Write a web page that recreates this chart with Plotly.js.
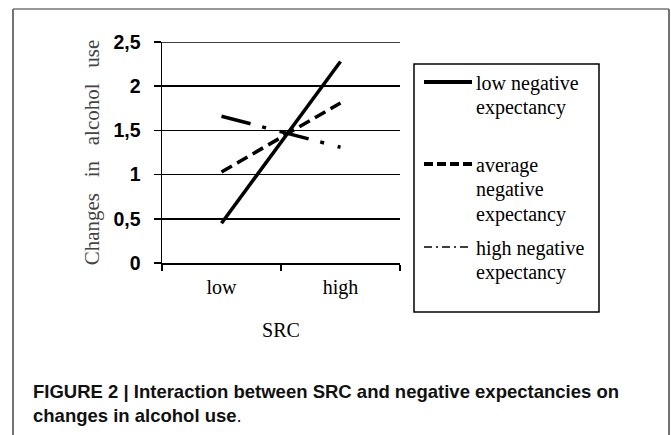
<!DOCTYPE html>
<html>
<head>
<meta charset="utf-8">
<script src="https://cdn.plot.ly/plotly-3.0.1.min.js"></script>
<style>
  html, body { margin: 0; padding: 0; background: #fff; }
  #chart { width: 671px; height: 435px; }
</style>
</head>
<body>
<div id="chart"></div>
<script>
// ---- data ----
const categories = ['low', 'high'];
const lowNegative = [0.45, 2.28];
const averageNegative = [1.03, 1.81];
const highNegative = [1.66, 1.31];
const seriesNames = ['low negative expectancy', 'average negative expectancy', 'high negative expectancy'];
const legendLines = [
  ['low negative', 'expectancy'],
  ['average', 'negative', 'expectancy'],
  ['high negative', 'expectancy']
];
const yTicks = [0, 0.5, 1, 1.5, 2, 2.5];

// ---- geometry helpers (pixel -> paper) ----
const W = 671, H = 435;
const M = {l: 162, r: 271, t: 42, b: 172};
const PW = W - M.l - M.r, PH = H - M.t - M.b;
const px = x => (x - M.l) / PW;
const py = y => (H - M.b - y) / PH;

const serif = 'Liberation Serif, Times New Roman, serif';
const sans = 'Liberation Sans, Arial, sans-serif';

const traces = [
  {x: categories, y: lowNegative, name: seriesNames[0], type: 'scatter', mode: 'lines',
   line: {color: '#000', width: 3.5}},
  {x: categories, y: averageNegative, name: seriesNames[1], type: 'scatter', mode: 'lines',
   line: {color: '#000', width: 3.5, dash: '12px,6px'}},
  {x: categories, y: highNegative, name: seriesNames[2], type: 'scatter', mode: 'lines',
   line: {color: '#000', width: 3.5, dash: '30px,12px,4px,14px'}}
];

const shapes = [];
const annotations = [];

// top gridline (Plotly skips the grid line on the plot edge)
shapes.push({type: 'line', xref: 'paper', yref: 'y', x0: 0, x1: 1,
  y0: yTicks[yTicks.length - 1], y1: yTicks[yTicks.length - 1], line: {color: '#000', width: 1.5}});

// outer frame
shapes.push({type: 'line', xref: 'paper', yref: 'paper', x0: px(13), x1: px(13), y0: py(9), y1: py(440), line: {color: '#444', width: 1.5}});
shapes.push({type: 'line', xref: 'paper', yref: 'paper', x0: px(669), x1: px(669), y0: py(9), y1: py(440), line: {color: '#444', width: 1.5}});
shapes.push({type: 'line', xref: 'paper', yref: 'paper', x0: px(13), x1: px(669), y0: py(9), y1: py(9), line: {color: '#777', width: 1.5}});

// legend box
shapes.push({type: 'rect', xref: 'paper', yref: 'paper', x0: px(414), x1: px(599), y0: py(64), y1: py(312),
  line: {color: '#000', width: 1.5}, fillcolor: '#fff', layer: 'below'});

const sampleStyles = [
  {color: '#000', width: 4},
  {color: '#000', width: 4, dash: '9px,4px'},
  {color: '#000', width: 1.3, dash: '8px,4px,2px,4px'}
];
const firstLineY = [83, 165, 248];
legendLines.forEach((lines, i) => {
  shapes.push({type: 'line', xref: 'paper', yref: 'paper', x0: px(424), x1: px(472),
    y0: py(firstLineY[i] - 1), y1: py(firstLineY[i] - 1), line: sampleStyles[i]});
  lines.forEach((t, j) => {
    annotations.push({xref: 'paper', yref: 'paper', x: px(474), y: py(firstLineY[i] + j * 24.5),
      xanchor: 'left', yanchor: 'middle', showarrow: false, text: t,
      font: {family: serif, size: 20, color: '#000'}});
  });
});

// caption
annotations.push({xref: 'paper', yref: 'paper', x: px(31), y: py(403), xanchor: 'left', yanchor: 'middle',
  showarrow: false, align: 'left',
  text: '<b>FIGURE 2 | Interaction between SRC and negative expectancies on<br>changes in alcohol use</b>.',
  font: {family: sans, size: 18.5, color: '#111'}});

const layout = {
  width: W, height: H,
  margin: M,
  paper_bgcolor: '#fff', plot_bgcolor: '#fff',
  showlegend: false,
  separators: ', ',
  xaxis: {
    type: 'category', range: [-0.5, 1.5], fixedrange: true,
    showline: true, linecolor: '#000', linewidth: 1.5,
    ticks: 'outside', tickson: 'boundaries', ticklen: 6, tickcolor: '#000', tickwidth: 1.5,
    showgrid: false, zeroline: false,
    tickfont: {family: serif, size: 20, color: '#000'},
    ticklabelstandoff: 5,
    title: {text: 'SRC', font: {family: serif, size: 20, color: '#000'}, standoff: 25},
    automargin: false
  },
  yaxis: {
    range: [0, 2.5], tickvals: yTicks, fixedrange: true,
    showline: true, linecolor: '#000', linewidth: 1.5,
    ticks: 'outside', ticklen: 7, tickcolor: '#000', tickwidth: 1.5,
    showgrid: true, gridcolor: '#000', gridwidth: 1.5, zeroline: false,
    tickfont: {family: sans, size: 19.5, color: '#000', weight: 'bold'},
    ticklabelstandoff: 9,
    title: {text: 'Changes\u00a0\u00a0\u00a0in\u00a0\u00a0\u00a0alcohol\u00a0\u00a0\u00a0use', font: {family: serif, size: 21, color: '#444'}, standoff: 8},
    automargin: false
  },
  shapes: shapes,
  annotations: annotations
};

Plotly.newPlot('chart', traces, layout, {displayModeBar: false, staticPlot: true});
</script>
</body>
</html>
